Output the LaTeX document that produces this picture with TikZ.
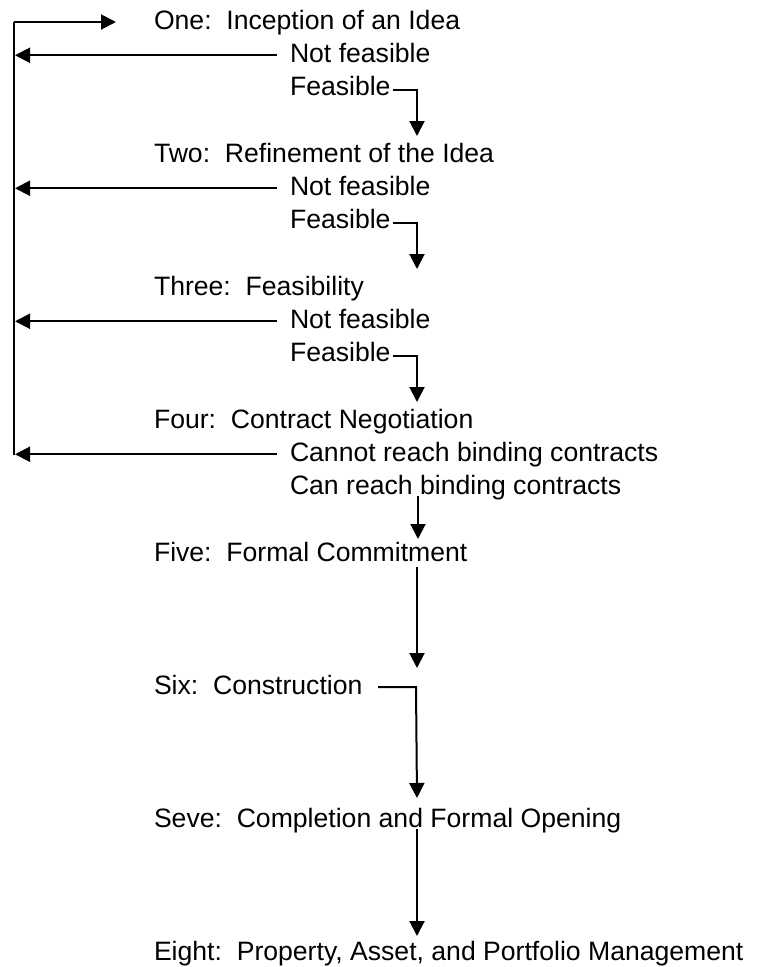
\documentclass[tikz,border=0pt]{standalone}
\usepackage{fontspec}
\setmainfont{Liberation Sans}
\usetikzlibrary{arrows.meta}
\tikzset{
  lbl/.style={anchor=base west, inner sep=0pt, outer sep=0pt, font=\fontsize{26.6}{32}\selectfont},
  conn/.style={line width=2pt, draw=black},
  arr/.style={conn, -{Triangle[length=15pt,width=15pt]}}
}
\begin{document}
\begin{tikzpicture}[x=1pt,y=-1pt]
\useasboundingbox (0,0) rectangle (756,967);
\frenchspacing
% text
\node[lbl] (one)    at (154,29)    {One:\ \ Inception of an Idea};
\node[lbl] (nf1)    at (290,62.25) {Not feasible};
\node[lbl] (f1)     at (290,95.5)  {Feasible};
\node[lbl] (two)    at (154,162)   {Two:\ \ Refinement of the Idea};
\node[lbl] (nf2)    at (290,195.25){Not feasible};
\node[lbl] (f2)     at (290,228.5) {Feasible};
\node[lbl] (three)  at (154,295)   {Three:\ \ Feasibility};
\node[lbl] (nf3)    at (290,328.25){Not feasible};
\node[lbl] (f3)     at (290,361.5) {Feasible};
\node[lbl] (four)   at (154,428)   {Four:\ \ Contract Negotiation};
\node[lbl] (cannot) at (290,461.25){Cannot reach binding contracts};
\node[lbl] (can)    at (290,494.5) {Can reach binding contracts};
\node[lbl] (five)   at (154,561)   {Five:\ \ Formal Commitment};
\node[lbl] (six)    at (154,694)   {Six:\ \ Construction};
\node[lbl] (seve)   at (154,827)   {Seve:\ \ Completion and Formal Opening};
\node[lbl] (eight)  at (154,960)   {Eight:\ \ Property, Asset, and Portfolio Management};
% coordinates
\coordinate (top)  at (14,22);
\coordinate (bot)  at (14,455);
\coordinate (onein) at (116,22);
\coordinate (nf1s) at (277,55.25);  \coordinate (nf1e) at (15,55.25);
\coordinate (nf2s) at (277,188.25); \coordinate (nf2e) at (15,188.25);
\coordinate (nf3s) at (277,321.25); \coordinate (nf3e) at (15,321.25);
\coordinate (cns)  at (277,454.25); \coordinate (cne)  at (15,454.25);
\coordinate (f1s) at (393,89.5);  \coordinate (f1c) at (417,89.5);  \coordinate (twoin) at (417,136);
\coordinate (f2s) at (393,222.5); \coordinate (f2c) at (417,222.5); \coordinate (threein) at (417,269);
\coordinate (f3s) at (393,355.5); \coordinate (f3c) at (417,355.5); \coordinate (fourin) at (417,402);
\coordinate (cans) at (418,496); \coordinate (fivein) at (418,539);
\coordinate (fives) at (417,567); \coordinate (sixin) at (417,668);
\coordinate (sixs) at (378,687); \coordinate (sixc) at (416,687); \coordinate (sevein) at (417,798);
\coordinate (seves) at (417,829); \coordinate (eightin) at (417,936);
% feedback loop
\draw[conn] (bot) -- (top);
\draw[arr] (top) -- (onein);
\draw[arr] (nf1s) -- (nf1e);
\draw[arr] (nf2s) -- (nf2e);
\draw[arr] (nf3s) -- (nf3e);
\draw[arr] (cns) -- (cne);
% forward flow
\draw[arr] (f1s) -- (f1c) -- (twoin);
\draw[arr] (f2s) -- (f2c) -- (threein);
\draw[arr] (f3s) -- (f3c) -- (fourin);
\draw[arr] (cans) -- (fivein);
\draw[arr] (fives) -- (sixin);
\draw[arr] (sixs) -- (sixc) -- (sevein);
\draw[arr] (seves) -- (eightin);
\end{tikzpicture}
\end{document}
